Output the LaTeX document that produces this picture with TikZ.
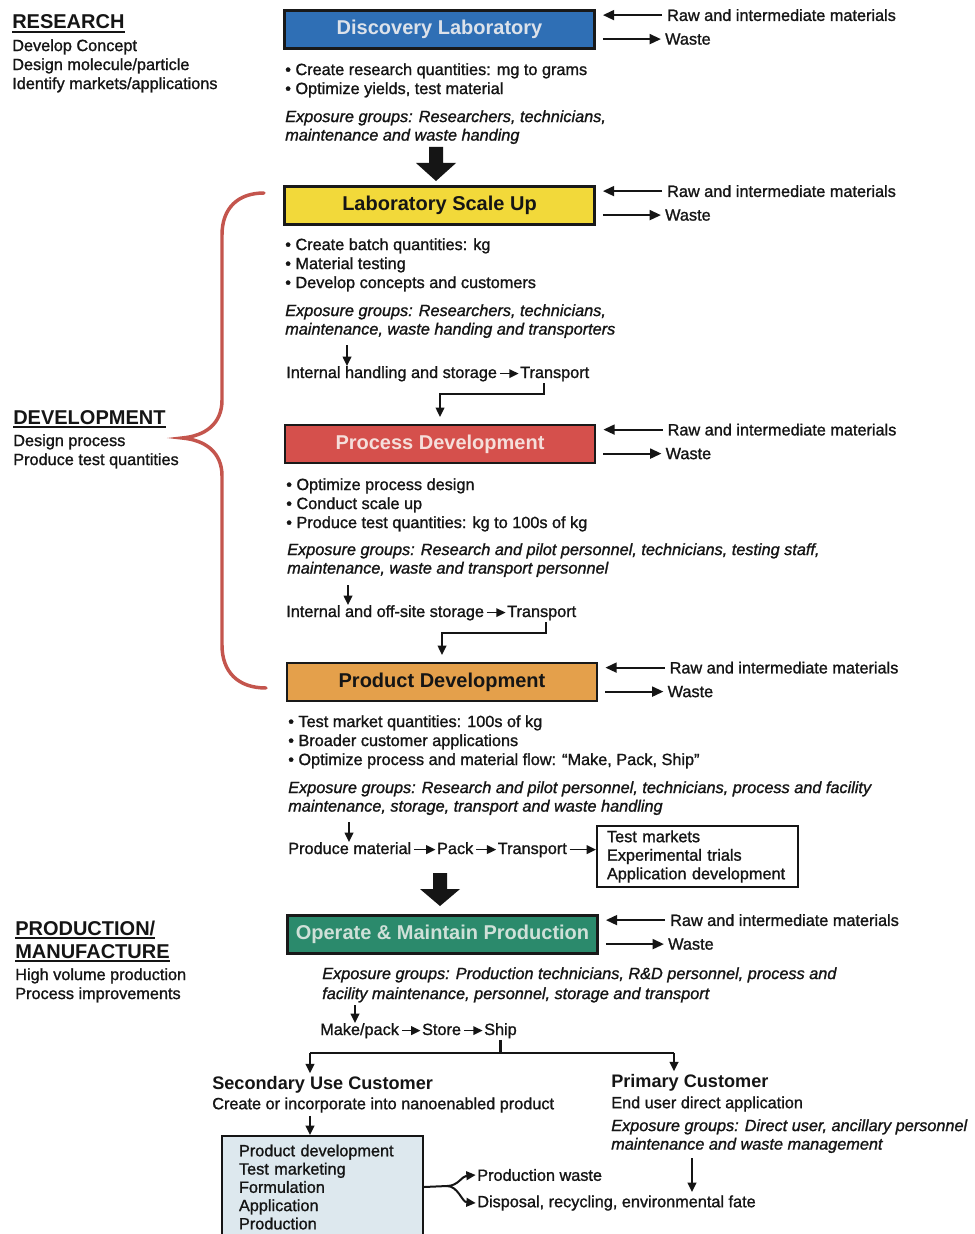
\documentclass[tikz,border=0pt]{standalone}
\usepackage{fontspec}
\setmainfont{Liberation Sans}[UprightFeatures={FakeBold=1.2},ItalicFeatures={FakeBold=1.2}]
\usetikzlibrary{arrows.meta,calc}
\definecolor{blueb}{HTML}{2F6FB5}
\definecolor{bluet}{HTML}{DCE2EA}
\definecolor{yellowb}{HTML}{F2D93A}
\definecolor{redb}{HTML}{D5504C}
\definecolor{redt}{HTML}{F5DEDA}
\definecolor{orangeb}{HTML}{E4A04B}
\definecolor{tealb}{HTML}{2B8A6C}
\definecolor{tealt}{HTML}{CFE0D8}
\definecolor{lightb}{HTML}{DDE8EE}
\definecolor{bracec}{HTML}{C4554D}
\definecolor{ink}{HTML}{151515}
\newcommand\ulhead[1]{\setbox0\hbox{#1}\rlap{\rule[-3pt]{\wd0}{1.4pt}}\box0}
\newcommand\sidearrows[1]{%
  \node[txt] (#1raw) at ([xshift=53.25pt,yshift=-4.5pt]#1.north east) {Raw and intermediate materials};
  \node[txt] (#1waste) at ([xshift=51.75pt,yshift=-22.5pt]#1.north east) {Waste};
  \draw[sidearr] ([xshift=-3.5pt]#1raw.west) -- ($(#1.east |- #1raw.west)+(7,0)$);
  \draw[sidearr] ($(#1.east |- #1waste.west)+(7,0)$) -- ([xshift=-3pt]#1waste.west);
}
\newcommand\chainarrow[2]{\draw[sarrow] ([xshift=2pt,yshift=3.3pt]#1.base east) -- ([xshift=-1pt,yshift=3.3pt]#2.base west);}
\begin{document}
\begin{tikzpicture}[x=0.75pt,y=-0.75pt,
  every node/.style={text=ink},
  txt/.style={anchor=west,inner sep=0pt,font=\fontsize{12.2pt}{14.25pt}\selectfont},
  chain/.style={anchor=base west,inner sep=0pt,font=\fontsize{12.2pt}{14.25pt}\selectfont},
  blk/.style={anchor=north west,inner sep=0pt,align=left,font=\fontsize{12.2pt}{14.25pt}\selectfont},
  expo/.style={anchor=north west,inner sep=0pt,align=left,font=\fontsize{12.2pt}{13.9pt}\selectfont\itshape},
  head/.style={anchor=base west,inner sep=0pt,font=\fontsize{15pt}{17pt}\selectfont\bfseries},
  custhead/.style={anchor=west,inner sep=0pt,font=\fontsize{13.6pt}{16pt}\selectfont\bfseries},
  stagebox/.style={draw=black!90,line width=2.1pt,minimum width=232.5pt,minimum height=28.5pt,
     font=\fontsize{15pt}{18pt}\selectfont\bfseries,inner sep=0pt},
  sidearr/.style={draw=ink,line width=1.5pt,-{Triangle[length=8.5pt,width=7.5pt]}},
  sarrow/.style={draw=ink,line width=1.2pt,-{Triangle[length=7pt,width=6.5pt]}},
  barline/.style={draw=ink,line width=2.2pt},
]
\useasboundingbox (0,0) rectangle (974,1234);
\fill[white] (0,0) rectangle (974,1234);

% ---------- left column ----------
\node[head] (resh) at (12,29) {\ulhead{RESEARCH}};
\node[blk] (resd) at (12,39) {Develop Concept\\Design molecule/particle\\Identify markets/applications};
\node[head] (devh) at (13,424) {\ulhead{DEVELOPMENT}};
\node[blk] (devd) at (13,434) {Design process\\Produce test quantities};
\node[head] (proh1) at (15,935) {\ulhead{PRODUCTION/}};
\node[head] (proh2) at (15,958) {\ulhead{MANUFACTURE}};
\node[blk] (prodd) at (15,968) {High volume production\\Process improvements};

% brace
\draw[bracec,line width=2.6pt,line cap=round]
  (264,193) .. controls (238,193) and (222,208) .. (222,235) -- (222,400)
  .. controls (222,424) and (205,436) .. (182,438)
  .. controls (205,440) and (222,452) .. (222,476) -- (222,645)
  .. controls (222,672) and (238,688) .. (266,688);

% ---------- Discovery ----------
\node[stagebox,fill=blueb,text=bluet] (disc) at (439.5,29.5) {Discovery Laboratory};
\sidearrows{disc}
\node[blk] (db) at (285,63) {• Create research quantities: mg to grams\\• Optimize yields, test material};
\node[expo] (de) at (285,110) {Exposure groups: Researchers, technicians,\\maintenance and waste handing};
\fill[ink] (429,147) -- (443,147) -- (443,163) -- (456,163) -- (436,181) -- (416,163) -- (429,163) -- cycle;

% ---------- Lab scale up ----------
\node[stagebox,fill=yellowb] (lab) at (439.5,205.5) {Laboratory Scale Up};
\sidearrows{lab}
\node[blk] (lb) at (285,238) {• Create batch quantities: kg\\• Material testing\\• Develop concepts and customers};
\node[expo] (le) at (285,304) {Exposure groups: Researchers, technicians,\\maintenance, waste handing and transporters};
\node[chain] (l1) at (286,378) {Internal handling and storage};
\node[chain] (l2) at ([xshift=17pt]l1.base east) {Transport};
\chainarrow{l1}{l2}
\coordinate (la) at (347,345);
\draw[sarrow] (la) -- (la |- l1.north);
\coordinate (lc) at (544,383);

% ---------- Process development ----------
\node[stagebox,fill=redb,text=redt] (proc) at (440,444) {Process Development};
\sidearrows{proc}
\draw[sarrow,shorten >=5pt] (lc) -- ++(0,11) -| (proc.north);
\node[blk] (pb) at (286,478) {• Optimize process design\\• Conduct scale up\\• Produce test quantities: kg to 100s of kg};
\node[expo] (pe) at (287,543) {Exposure groups: Research and pilot personnel, technicians, testing staff,\\maintenance, waste and transport personnel};
\node[chain] (p1) at (286,617) {Internal and off-site storage};
\node[chain] (p2) at ([xshift=17pt]p1.base east) {Transport};
\chainarrow{p1}{p2}
\coordinate (pa) at (348,585);
\draw[sarrow] (pa) -- (pa |- p1.north);
\coordinate (pc) at (546,622);

% ---------- Product development ----------
\node[stagebox,fill=orangeb] (prod) at (442,682) {Product Development};
\sidearrows{prod}
\draw[sarrow,shorten >=5pt] (pc) -- ++(0,11) -| (prod.north);
\node[blk] (rb) at (288,715) {• Test market quantities: 100s of kg\\• Broader customer applications\\• Optimize process and material flow: “Make, Pack, Ship”};
\node[expo] (re) at (288,781) {Exposure groups: Research and pilot personnel, technicians, process and facility\\maintenance, storage, transport and waste handling};
\node[chain] (r1) at (288,854) {Produce material};
\node[chain] (r2) at ([xshift=19pt]r1.base east) {Pack};
\node[chain] (r3) at ([xshift=18pt]r2.base east) {Transport};
\node[draw=ink,line width=1.5pt,anchor=north west,align=left,inner xsep=7.5pt,inner ysep=0pt,
      text width=135.75pt,minimum height=45.75pt,fill=white,
      font=\fontsize{12.2pt}{13.9pt}\selectfont] (tm) at (596,825)
      {Test markets\\Experimental trials\\Application development};
\chainarrow{r1}{r2}
\chainarrow{r2}{r3}
\draw[sarrow] ([xshift=2pt,yshift=3.3pt]r3.base east) -- ([yshift=3.3pt]r3.base east -| tm.west);
\coordinate (ra) at (349,822);
\draw[sarrow] (ra) -- (ra |- r1.north);
\fill[ink] (433,873) -- (447,873) -- (447,889) -- (460,889) -- (440,906) -- (420,889) -- (433,889) -- cycle;

% ---------- Production ----------
\node[stagebox,fill=tealb,text=tealt] (oper) at (442.5,934.5) {Operate \& Maintain Production};
\sidearrows{oper}
\node[expo,font=\fontsize{12.2pt}{15pt}\selectfont\itshape] (oe) at (322,967) {Exposure groups: Production technicians, R\&D personnel, process and\\facility maintenance, personnel, storage and transport};
\node[chain] (o1) at (320,1035) {Make/pack};
\node[chain] (o2) at ([xshift=17pt]o1.base east) {Store};
\node[chain] (o3) at ([xshift=17pt]o2.base east) {Ship};
\chainarrow{o1}{o2}
\chainarrow{o2}{o3}
\coordinate (oa) at (355,1005);
\draw[sarrow] (oa) -- (oa |- o1.north);

\coordinate (bl) at (310,1053);
\coordinate (br) at (674,1053);
\draw[barline] ([yshift=-1pt]o3.south) -- (o3.south |- bl);
\draw[barline] (bl) -- (br);

% ---------- customers ----------
\node[custhead] (sec) at (212,1085) {Secondary Use Customer};
\node[txt] (secd) at (212,1105) {Create or incorporate into nanoenabled product};
\node[custhead] (pri) at (611,1083) {Primary Customer};
\node[txt] (prid) at (611,1104) {End user direct application};
\node[expo] (prie) at (611,1119) {Exposure groups: Direct user, ancillary personnel\\maintenance and waste management};
\draw[sarrow,line width=1.5pt] (bl) -- ($(bl |- sec.north)+(0,-3)$);
\draw[sarrow,line width=1.5pt] (br) -- ($(br |- pri.north)+(0,-3)$);

\node[draw=ink,line width=1.5pt,fill=lightb,anchor=north west,align=left,inner xsep=12.75pt,inner ysep=0pt,
      text width=125.25pt,minimum height=76.5pt,
      font=\fontsize{12.2pt}{13.7pt}\selectfont] (sbox) at (221,1135)
      {Product development\\Test marketing\\Formulation\\Application\\Production};
\draw[sarrow,line width=1.5pt] ($(bl |- secd.south)+(0,3)$) -- (bl |- sbox.north);

\coordinate (fk) at (447,1186);
\node[txt] (pw) at (477,1175) {Production waste};
\node[txt] (dr) at (477,1203) {Disposal, recycling, environmental fate};
\draw[draw=ink,line width=1.5pt] (sbox.east) -- (fk);
\draw[sarrow,line width=1.5pt] (fk) .. controls (458,1186) and (462,1176) .. ([xshift=-1pt]pw.west);
\draw[sarrow,line width=1.5pt] (fk) .. controls (458,1186) and (462,1202) .. ([xshift=-1pt]dr.west);

\coordinate (pta) at (692,1192);
\draw[sarrow,line width=1.5pt] ($(pta |- prie.south)+(0,5)$) -- (pta);
\end{tikzpicture}
\end{document}
